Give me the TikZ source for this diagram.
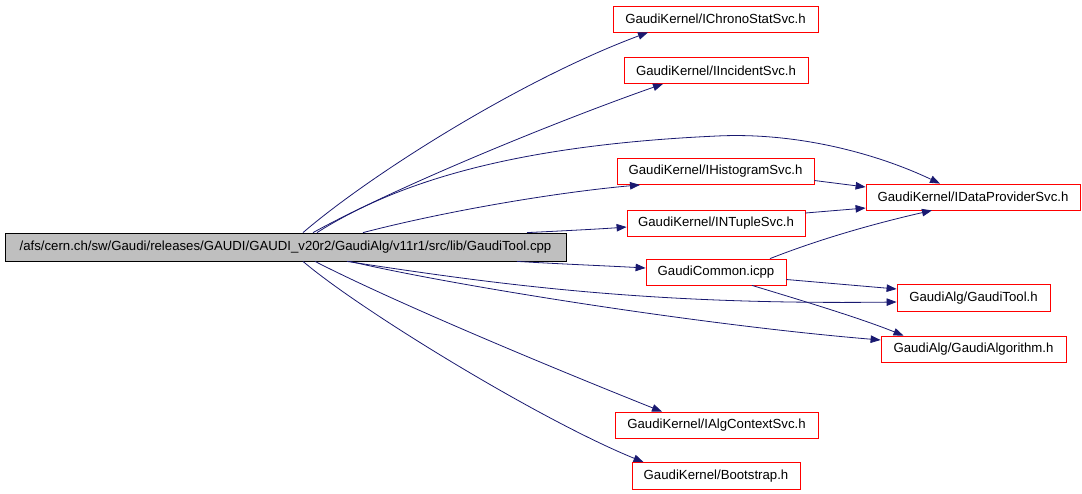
\documentclass[tikz,border=0pt]{standalone}
\usepackage{fontspec}
\setmainfont{Liberation Sans}
\usetikzlibrary{arrows.meta}
\definecolor{edgeblue}{HTML}{191970}
\definecolor{maingray}{HTML}{BFBFBF}
\begin{document}
\begin{tikzpicture}[x=1pt,y=-1pt,
  every node/.style={font=\fontsize{13.2}{15}\selectfont, inner sep=0pt, minimum height=26pt},
  filebox/.style={draw=red, line width=0.8pt, fill=white},
  mainbox/.style={draw=black, line width=0.8pt, fill=maingray},
  edge/.style={draw=edgeblue, line width=0.8pt, -{Triangle[length=10pt,width=7.5pt]}}]
\useasboundingbox (0,0) rectangle (1082,493);
\node[mainbox, minimum width=561pt, minimum height=28pt] (main) at (285.5,247) {/afs/cern.ch/sw/Gaudi/releases/GAUDI/GAUDI\_v20r2/GaudiAlg/v11r1/src/lib/GaudiTool.cpp};
\node[filebox, minimum width=205pt] (chrono) at (715.5,19) {GaudiKernel/IChronoStatSvc.h};
\node[filebox, minimum width=184pt] (incident) at (716,70.5) {GaudiKernel/IIncidentSvc.h};
\node[filebox, minimum width=197pt] (histo) at (715.5,171.5) {GaudiKernel/IHistogramSvc.h};
\node[filebox, minimum width=214pt] (dataprov) at (973,197) {GaudiKernel/IDataProviderSvc.h};
\node[filebox, minimum width=178pt] (ntuple) at (716,223) {GaudiKernel/INTupleSvc.h};
\node[filebox, minimum width=140pt] (common) at (716,272) {GaudiCommon.icpp};
\node[filebox, minimum width=153pt, minimum height=27pt] (tool) at (973.5,298) {GaudiAlg/GaudiTool.h};
\node[filebox, minimum width=185pt] (algo) at (973.5,349) {GaudiAlg/GaudiAlgorithm.h};
\node[filebox, minimum width=203pt] (ctx) at (716.5,425) {GaudiKernel/IAlgContextSvc.h};
\node[filebox, minimum width=168pt, minimum height=27pt] (boot) at (716,476) {GaudiKernel/Bootstrap.h};
% edges from main (top side)
\draw[edge] ([xshift=17.5pt]main.north) .. controls (370,175) and (520,80) .. ([xshift=-67.5pt]chrono.south);
\draw[edge] ([xshift=27.5pt]main.north) .. controls (400,185) and (560,120) .. ([xshift=-53pt]incident.south);
\draw[edge] ([xshift=31.5pt]main.north) .. controls (400,180) and (520,145) .. (717,136) .. controls (800,132) and (880,155) .. ([xshift=-33pt]dataprov.north);
\draw[edge] ([xshift=77.5pt]main.north) .. controls (450,210) and (560,192) .. ([xshift=-75.5pt]histo.south);
\draw[edge] ([xshift=241.5pt]main.north) .. controls (560,231) and (600,229) .. ([yshift=-4pt]ntuple.west);
% edges from main (bottom side)
\draw[edge] ([xshift=231.5pt]main.south) .. controls (560,264) and (610,266) .. ([yshift=4pt]common.west);
\draw[edge] ([xshift=61.5pt]main.south) .. controls (500,285) and (650,305) .. ([yshift=-4pt]tool.west);
\draw[edge] ([xshift=64.5pt]main.south) .. controls (450,285) and (700,325) .. ([yshift=9pt]algo.west);
\draw[edge] ([xshift=29.5pt]main.south) .. controls (400,305) and (570,375) .. ([xshift=-54.5pt]ctx.north);
\draw[edge] ([xshift=17.5pt]main.south) .. controls (360,310) and (540,420) .. ([xshift=-72.5pt]boot.north);
% secondary edges
\draw[edge] ([yshift=-9pt]histo.east) -- ([yshift=10pt]dataprov.west);
\draw[edge] ([yshift=10pt]ntuple.east) -- ([yshift=-11pt]dataprov.west);
\draw[edge] ([xshift=54pt]common.north) .. controls (830,235) and (890,220) .. ([xshift=-41pt]dataprov.south);
\draw[edge] ([yshift=-7.5pt]common.east) -- ([yshift=9pt]tool.west);
\draw[edge] ([xshift=36pt]common.south) .. controls (800,300) and (860,318) .. ([xshift=-70pt]algo.north);
\end{tikzpicture}
\end{document}
